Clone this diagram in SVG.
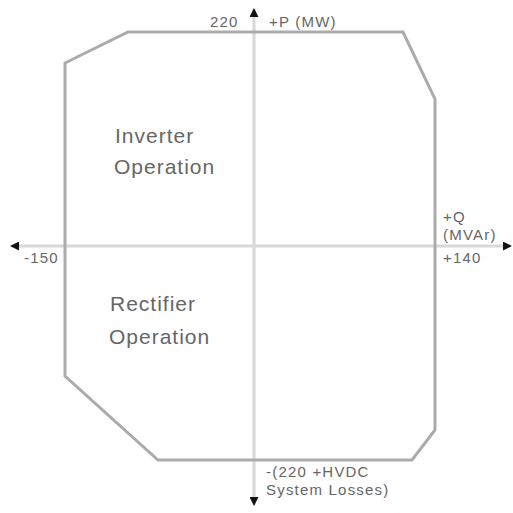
<svg xmlns="http://www.w3.org/2000/svg" width="513" height="513" viewBox="0 0 513 513">
<style>
.ax{stroke:#d8d8d8;stroke-width:3;fill:none}
.bd{stroke:#ababab;stroke-width:3;fill:none;stroke-linejoin:miter}
.s{font-family:"Liberation Sans",Arial,sans-serif;font-size:15px;letter-spacing:1.2px;fill:#666}
.b{font-family:"Liberation Sans",Arial,sans-serif;font-size:21px;letter-spacing:1px;fill:#666}
</style>
<defs>
<marker id="ah" viewBox="0 0 10 10" refX="9" refY="5" markerWidth="3" markerHeight="3" orient="auto-start-reverse"><path d="M0,0L10,5L0,10z" fill="#111"/></marker>
</defs>
<g id="connectors">
<line class="ax" x1="254" y1="505" x2="254" y2="9" marker-start="url(#ah)" marker-end="url(#ah)"/>
<line class="ax" x1="11" y1="246" x2="511" y2="246" marker-start="url(#ah)" marker-end="url(#ah)"/>
</g>
<g id="boundary">
<polygon class="bd" points="65,63 128,32 403,32 435,99 435,430 412,460 158,460 65,376"/>
</g>
<g id="labels">
<text class="s" x="210" y="27">220</text>
<text class="s" x="269" y="27">+P (MW)</text>
<text class="s" x="24" y="263">-150</text>
<text class="s" x="443" y="222">+Q</text>
<text class="s" x="443" y="240">(MVAr)</text>
<text class="s" x="443" y="263">+140</text>
<text class="s" x="266" y="477">-(220 +HVDC</text>
<text class="s" x="266" y="495">System Losses)</text>
</g>
<g id="inverter"><text class="b" x="115" y="143">Inverter</text><text class="b" x="114" y="174">Operation</text></g>
<g id="rectifier"><text class="b" x="110" y="311">Rectifier</text><text class="b" x="109" y="344">Operation</text></g>
</svg>
